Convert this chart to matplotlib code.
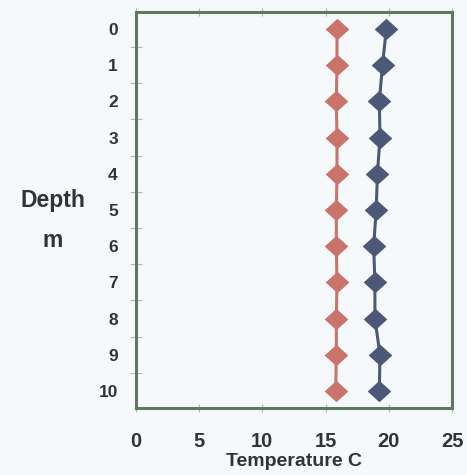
import numpy as np
import matplotlib.pyplot as plt
from matplotlib.ticker import MultipleLocator
from matplotlib.path import Path

plt.rcParams['font.family'] = ['Liberation Sans', 'DejaVu Sans']

# Temperature profiles by depth
depth = [0, 1, 2, 3, 4, 5, 6, 7, 8, 9, 10]
temp_red = [15.9, 15.9, 15.85, 15.9, 15.9, 15.85, 15.85, 15.9, 15.85, 15.85, 15.8]
temp_blue = [19.8, 19.5, 19.25, 19.3, 19.1, 19.0, 18.8, 18.9, 18.9, 19.3, 19.25]

BG = '#f5f9fb'
FRAME = '#5d7a5c'
TEXT = '#333333'

# slightly wide diamond
wide_diamond = Path([(0, 1), (1.1, 0), (0, -1), (-1.1, 0), (0, 1)],
                    [Path.MOVETO, Path.LINETO, Path.LINETO, Path.LINETO, Path.CLOSEPOLY])

fig = plt.figure(figsize=(4.67, 4.75), dpi=100, facecolor=BG)
ax = fig.add_axes([0.291, 0.141, 0.677, 0.834], facecolor=BG)

ax.plot(temp_red, depth, '-', color='#c9736a', linewidth=2.2,
        marker=wide_diamond, markersize=17, markeredgewidth=0)
ax.plot(temp_blue, depth, '-', color='#4c5878', linewidth=2.2,
        marker=wide_diamond, markersize=17, markeredgewidth=0)

ax.set_xlim(0, 25)
ax.set_ylim(10.47, -0.47)
ax.set_xticks([0, 5, 10, 15, 20, 25])
ax.set_yticks(depth)
ax.yaxis.set_minor_locator(MultipleLocator(0.5))

for side in ax.spines.values():
    side.set_color(FRAME)
    side.set_linewidth(2.2)

ax.tick_params(axis='x', which='major', top=True, direction='inout', length=6,
               width=0.8, color='#b0b8b0', labelsize=14.5, pad=14)
ax.tick_params(axis='y', which='major', length=0, labelsize=12.5, pad=13)
ax.tick_params(axis='y', which='minor', direction='inout', length=8,
               width=0.8, color='#b0b8b0')
for lab in ax.get_xticklabels() + ax.get_yticklabels():
    lab.set_fontweight('heavy')
    lab.set_color(TEXT)

ax.set_xlabel('Temperature C', fontsize=14, fontweight='bold',
              color=TEXT, labelpad=2)

fig.text(0.113, 0.578, 'Depth', ha='center', va='center', fontsize=16.5,
         fontweight='bold', color=TEXT)
fig.text(0.113, 0.493, 'm', ha='center', va='center', fontsize=16.5,
         fontweight='bold', color=TEXT)

fig.savefig('out.png', dpi=100, facecolor=BG)
